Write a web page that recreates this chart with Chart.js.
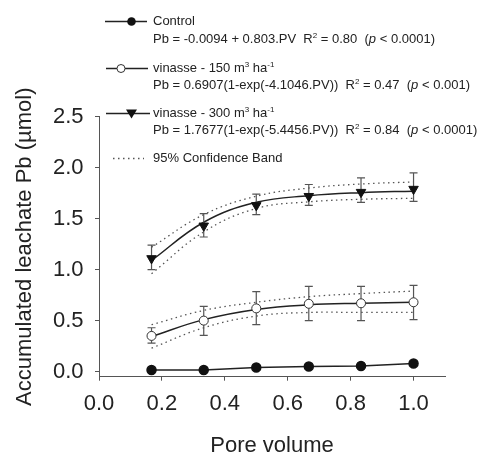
<!DOCTYPE html>
<html>
<head>
<meta charset="utf-8">
<script src="https://cdn.jsdelivr.net/npm/chart.js@4.4.1/dist/chart.umd.min.js"></script>
<style>
  body { margin: 0; background: #fff; }
  #wrap { position: relative; width: 480px; height: 457px; overflow: hidden; }
  #chart { position: absolute; left: 0; top: 0; }
  #legend { position: absolute; left: 0; top: 0; width: 480px; height: 457px; pointer-events: none; }
  .row { position: absolute; left: 153px; font: 13px "Liberation Sans", Arial, sans-serif; color: #222; line-height: 16px; white-space: nowrap; }
  .row sup { font-size: 8px; line-height: 0; vertical-align: 5px; }
  #keys { position: absolute; left: 0; top: 0; }
</style>
</head>
<body>
<div id="wrap">
  <canvas id="chart" width="480" height="457"></canvas>
  <div id="legend">
    <svg id="keys" width="480" height="457">
      <!-- Control -->
      <line x1="105" y1="21.5" x2="147" y2="21.5" stroke="#222" stroke-width="1.5"/>
      <circle cx="131.5" cy="21.5" r="4.3" fill="#111"/>
      <!-- vinasse 150 -->
      <line x1="106" y1="68.5" x2="148" y2="68.5" stroke="#222" stroke-width="1.5"/>
      <circle cx="121" cy="68.5" r="4" fill="#fff" stroke="#333" stroke-width="1"/>
      <!-- vinasse 300 -->
      <line x1="106" y1="113.5" x2="150" y2="113.5" stroke="#222" stroke-width="1.5"/>
      <polygon points="126,109.5 137,109.5 131.5,118.5" fill="#111"/>
      <!-- confidence band -->
      <line x1="113" y1="158.5" x2="144" y2="158.5" stroke="#555" stroke-width="1.3" stroke-dasharray="1.5 3.5"/>
    </svg>
    <div class="row" style="top:13px">Control</div>
    <div class="row" style="top:31px">Pb = -0.0094 + 0.803.PV&nbsp; R<sup>2</sup> = 0.80&nbsp; (<i>p</i> &lt; 0.0001)</div>
    <div class="row" style="top:60px">vinasse - 150 m<sup>3</sup> ha<sup>-1</sup></div>
    <div class="row" style="top:77px">Pb = 0.6907(1-exp(-4.1046.PV))&nbsp; R<sup>2</sup> = 0.47&nbsp; (<i>p</i> &lt; 0.001)</div>
    <div class="row" style="top:105px">vinasse - 300 m<sup>3</sup> ha<sup>-1</sup></div>
    <div class="row" style="top:122px">Pb = 1.7677(1-exp(-5.4456.PV))&nbsp; R<sup>2</sup> = 0.84&nbsp; (<i>p</i> &lt; 0.0001)</div>
    <div class="row" style="top:150px">95% Confidence Band</div>
  </div>
</div>
<script>
// pore volume fractions where leachate was sampled
const poreVolume = [0.167, 0.333, 0.5, 0.667, 0.833, 1.0];

// control
const control = [0.015, 0.015, 0.04, 0.05, 0.055, 0.08];

// vinasse 150 m3/ha: means, error bar ends, fitted curve and 95% band
const v150 = [0.35, 0.50, 0.62, 0.665, 0.67, 0.68];
const v150ErrHi = [0.43, 0.64, 0.785, 0.835, 0.835, 0.845];
const v150ErrLo = [0.28, 0.355, 0.46, 0.50, 0.50, 0.51];
const v150Fit = [0.345, 0.51, 0.61, 0.655, 0.67, 0.68];
const v150BandHi = [0.46, 0.60, 0.68, 0.735, 0.765, 0.79];
const v150BandLo = [0.23, 0.43, 0.545, 0.58, 0.58, 0.58];

// vinasse 300 m3/ha
const v300 = [1.11, 1.43, 1.63, 1.72, 1.76, 1.79];
const v300ErrHi = [1.24, 1.55, 1.74, 1.835, 1.90, 1.95];
const v300ErrLo = [1.0, 1.32, 1.54, 1.63, 1.66, 1.67];
const v300Fit = [1.09, 1.465, 1.66, 1.725, 1.755, 1.77];
const v300BandHi = [1.22, 1.54, 1.72, 1.80, 1.84, 1.86];
const v300BandLo = [0.96, 1.37, 1.60, 1.665, 1.69, 1.70];

// axis ticks
const xTicks = [0.0, 0.2, 0.4, 0.6, 0.8, 1.0];
const yTicks = [0.0, 0.5, 1.0, 1.5, 2.0, 2.5];

const pts = vals => vals.map((v, i) => ({ x: poreVolume[i], y: v }));

const fitLine = (data, order) => ({
    data: pts(data),
    showLine: true,
    borderColor: '#222',
    borderWidth: 1.5,
    pointRadius: 0,
    tension: 0.4,
    order: order
});

const bandLine = (data) => ({
    data: pts(data),
    showLine: true,
    borderColor: '#555',
    borderWidth: 1.3,
    borderDash: [1.5, 3.5],
    pointRadius: 0,
    tension: 0.4,
    order: 10
});

// error bars drawn right before each marker dataset
const errorBars = {
    id: 'errorBars',
    beforeDatasetDraw(chart, args) {
        const ds = chart.data.datasets[args.index];
        if (!ds.errHi) return;
        const { ctx } = chart;
        const xs = chart.scales.x, ys = chart.scales.y;
        ctx.save();
        ctx.strokeStyle = '#555';
        ctx.lineWidth = 1.2;
        ds.errHi.forEach((hi, i) => {
            const px = xs.getPixelForValue(poreVolume[i]);
            const top = ys.getPixelForValue(hi);
            const bot = ys.getPixelForValue(ds.errLo[i]);
            ctx.beginPath();
            ctx.moveTo(px, top); ctx.lineTo(px, bot);
            ctx.moveTo(px - 4, top); ctx.lineTo(px + 4, top);
            ctx.moveTo(px - 4, bot); ctx.lineTo(px + 4, bot);
            ctx.stroke();
        });
        ctx.restore();
    }
};

Chart.defaults.font.family = '"Liberation Sans", Arial, sans-serif';
Chart.defaults.color = '#222';

new Chart(document.getElementById('chart'), {
    type: 'scatter',
    data: {
        datasets: [
            {
                label: 'Control',
                data: pts(control),
                showLine: true,
                borderColor: '#222',
                borderWidth: 1.5,
                pointRadius: 4.5,
                pointBackgroundColor: '#111',
                pointBorderColor: '#111',
                order: 1
            },
            {
                label: 'vinasse - 150',
                data: pts(v150),
                errHi: v150ErrHi,
                errLo: v150ErrLo,
                pointRadius: 4.5,
                pointBackgroundColor: '#fff',
                pointBorderColor: '#333',
                pointBorderWidth: 1,
                order: 1
            },
            {
                label: 'vinasse - 300',
                data: pts(v300),
                errHi: v300ErrHi,
                errLo: v300ErrLo,
                pointStyle: 'triangle',
                rotation: 180,
                pointRadius: 5.5,
                pointBackgroundColor: '#111',
                pointBorderColor: '#111',
                order: 1
            },
            fitLine(v150Fit, 5),
            fitLine(v300Fit, 5),
            bandLine(v150BandHi),
            bandLine(v150BandLo),
            bandLine(v300BandHi),
            bandLine(v300BandLo)
        ]
    },
    options: {
        responsive: false,
        animation: false,
        layout: { padding: { left: 0, top: 116.7, right: 35, bottom: 0 } },
        plugins: { legend: { display: false }, tooltip: { enabled: false } },
        scales: {
            x: {
                type: 'linear',
                min: 0,
                max: 1.1,
                afterBuildTicks: s => { s.ticks = xTicks.map(v => ({ value: v })); },
                afterFit: s => { s.height = 80.3; },
                border: { color: '#555', width: 1 },
                grid: { drawOnChartArea: false, drawTicks: true, tickLength: 4, color: '#555' },
                ticks: { padding: 10, font: { size: 22 }, color: '#222', callback: v => v.toFixed(1) },
                title: { display: true, text: 'Pore volume', font: { size: 22, lineHeight: 1 }, padding: { top: 0, bottom: 0 }, color: '#222' }
            },
            y: {
                type: 'linear',
                min: -0.05,
                max: 2.5,
                afterBuildTicks: s => { s.ticks = yTicks.map(v => ({ value: v })); },
                afterFit: s => { s.width = 99; },
                border: { color: '#555', width: 1 },
                grid: { drawOnChartArea: false, drawTicks: true, tickLength: 4, color: '#555' },
                ticks: { padding: 11.5, font: { size: 22 }, color: '#222', callback: v => v.toFixed(1) },
                title: { display: true, text: 'Accumulated leachate Pb (\u00b5mol)', font: { size: 22, lineHeight: 1.2 }, padding: { top: 12, bottom: 0 }, color: '#222' }
            }
        }
    },
    plugins: [errorBars]
});
</script>
</body>
</html>
